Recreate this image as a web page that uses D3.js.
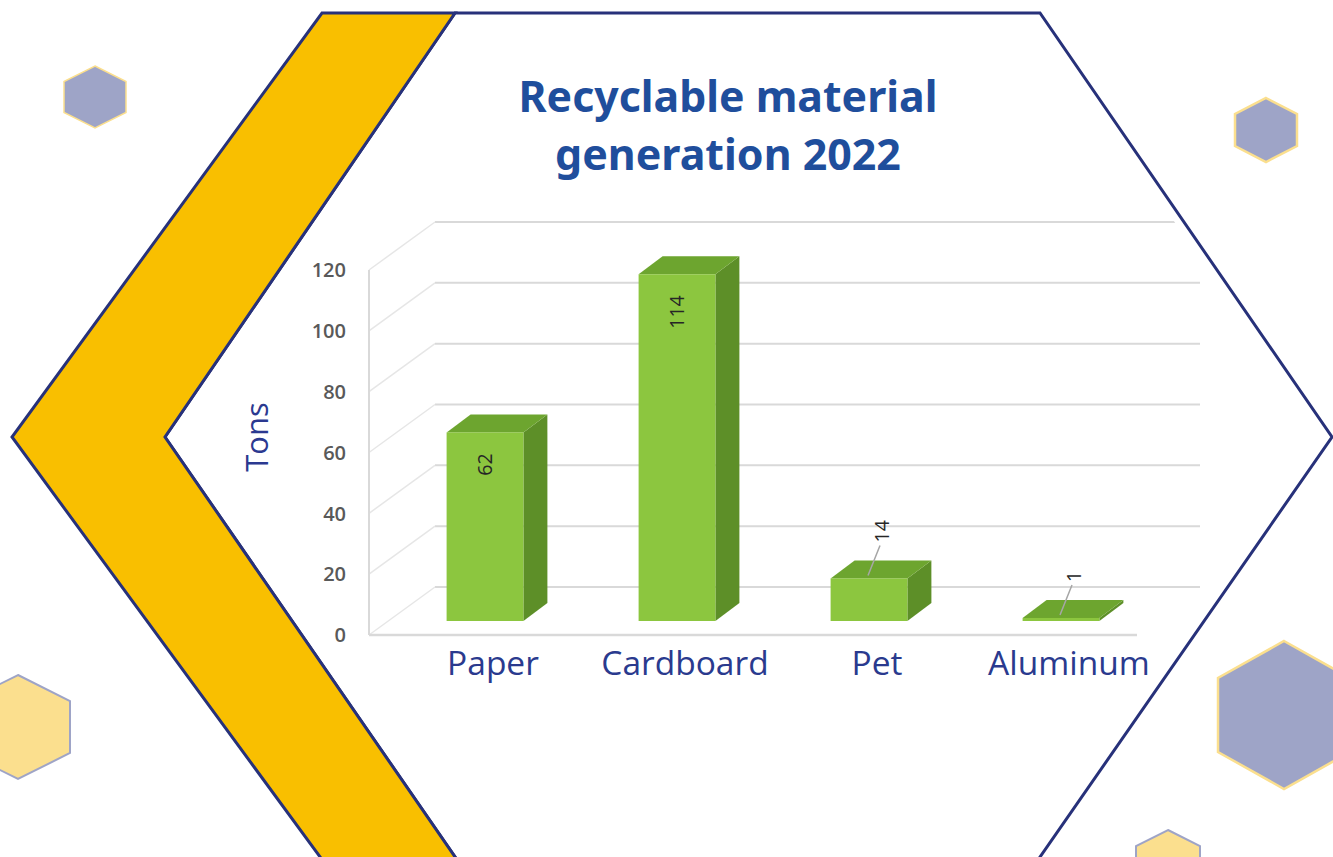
<!DOCTYPE html>
<html>
<head>
<meta charset="utf-8">
<script src="https://cdn.jsdelivr.net/npm/d3@7"></script>
<style>
  html, body { margin: 0; padding: 0; background: #ffffff; }
  svg { display: block; }
</style>
</head>
<body>
<svg id="chart" width="1333" height="857"></svg>
<script>
// Recycled material per category, in tons
const categories = ["Paper", "Cardboard", "Pet", "Aluminum"];
const tons = [62, 114, 14, 1];
const yTicks = [0, 20, 40, 60, 80, 100, 120];
const titleLines = ["Recyclable material", "generation 2022"];
const yAxisTitle = "Tons";

const svg = d3.select("#chart");

const navy = "#27317a";
const gold = "#f9bf00";
const lilac = "#9ea4c7";
const cream = "#fbdf8e";

// ---- decorative frame --------------------------------------------------
const hexFrame = [[455, 13], [1040, 13], [1332, 437], [1024, 880], [471, 880], [165, 437]];
const band = [[322, 13], [455, 13], [165, 437], [471, 880], [337, 880], [12, 437]];

svg.append("polygon")
  .attr("points", hexFrame.map(p => p.join(",")).join(" "))
  .attr("fill", "#ffffff").attr("stroke", navy).attr("stroke-width", 3)
  .attr("stroke-linejoin", "miter");

svg.append("polygon")
  .attr("points", band.map(p => p.join(",")).join(" "))
  .attr("fill", gold).attr("stroke", navy).attr("stroke-width", 3)
  .attr("stroke-linejoin", "miter");

// small pointy-top hexagons scattered around the frame
function hexPoints(cx, cy, hw, hh) {
  return [[cx, cy - hh], [cx + hw, cy - hh / 2], [cx + hw, cy + hh / 2],
          [cx, cy + hh], [cx - hw, cy + hh / 2], [cx - hw, cy - hh / 2]]
    .map(p => p.join(",")).join(" ");
}
const deco = [
  { cx: 95, cy: 97, hw: 31, hh: 31, fill: lilac, stroke: cream, sw: 1.5 },
  { cx: 1266, cy: 130, hw: 31, hh: 32, fill: lilac, stroke: cream, sw: 2.5 },
  { cx: 1284, cy: 715, hw: 66, hh: 74, fill: lilac, stroke: cream, sw: 2.5 },
  { cx: 1168, cy: 862, hw: 32, hh: 32, fill: cream, stroke: lilac, sw: 2 },
  { cx: 18, cy: 727, hw: 52, hh: 52, fill: cream, stroke: lilac, sw: 2 }
];
svg.selectAll("polygon.deco").data(deco).join("polygon")
  .attr("class", "deco")
  .attr("points", d => hexPoints(d.cx, d.cy, d.hw, d.hh))
  .attr("fill", d => d.fill).attr("stroke", d => d.stroke).attr("stroke-width", d => d.sw);

// ---- title -------------------------------------------------------------
const titleColor = "#1f4e9c";
const titleWidths = [419, 346];
titleLines.forEach((line, i) => {
  const t = svg.append("text")
    .attr("x", 728).attr("y", 112 + i * 58)
    .attr("text-anchor", "middle")
    .attr("font-family", "'Noto Sans', 'Open Sans', sans-serif")
    .attr("font-weight", 700)
    .attr("font-size", 42)
    .attr("fill", titleColor)
    .text(line);
  const w = t.node().getComputedTextLength();
  t.attr("font-size", 42 * titleWidths[i] / w);
});

// ---- 3D bar chart -----------------------------------------------------
const clipId = "plotClip";
svg.append("clipPath").attr("id", clipId)
  .append("polygon")
  .attr("points", [[460, 20], [1036, 20], [1322, 437], [1036, 850], [460, 850], [175, 437]]
    .map(p => p.join(",")).join(" "));

const plot = svg.append("g").attr("clip-path", `url(#${clipId})`);

const frontBase = 635;            // front edge of the floor
const wallDx = 66, wallDy = -48;  // depth of the floor / side wall
const barBase = 621;              // front-bottom of the bars
const barDx = 24, barDy = -18;    // bar depth
const axisX = 369;
const gridEnd = 1200;

const yScale = d3.scaleLinear().domain([0, 120]).range([0, 365]);
const x = d3.scaleBand().domain(categories).range([389, 1157])
  .paddingInner(0.6).paddingOuter(0.3);

const gridColor = "#d9d9d9";

// back-wall gridlines
plot.selectAll("line.grid").data(yTicks).join("line")
  .attr("class", "grid")
  .attr("x1", axisX + wallDx).attr("x2", gridEnd)
  .attr("y1", d => frontBase + wallDy - yScale(d))
  .attr("y2", d => frontBase + wallDy - yScale(d))
  .attr("stroke", gridColor).attr("stroke-width", 2);

// side-wall gridlines (diagonals)
plot.selectAll("line.diag").data(yTicks).join("line")
  .attr("class", "diag")
  .attr("x1", axisX).attr("y1", d => frontBase - yScale(d))
  .attr("x2", axisX + wallDx).attr("y2", d => frontBase + wallDy - yScale(d))
  .attr("stroke", "#e6e6e6").attr("stroke-width", 1.5);

// front vertical axis edge and floor edge
plot.append("line")
  .attr("x1", axisX).attr("x2", axisX)
  .attr("y1", frontBase).attr("y2", frontBase - yScale(120))
  .attr("stroke", gridColor).attr("stroke-width", 2);
plot.append("line")
  .attr("x1", axisX).attr("x2", 1137)
  .attr("y1", frontBase).attr("y2", frontBase)
  .attr("stroke", gridColor).attr("stroke-width", 2.5);

// y tick labels via a d3 axis positioned on the front edge
const yAxisScale = d3.scaleLinear().domain([0, 120]).range([frontBase, frontBase - yScale(120)]);
const yAxis = svg.append("g")
  .attr("transform", `translate(${axisX - 23},0)`)
  .call(d3.axisLeft(yAxisScale).tickValues(yTicks).tickSize(0).tickPadding(0));
yAxis.select(".domain").remove();
yAxis.selectAll("text")
  .attr("font-family", "'Open Sans', sans-serif")
  .attr("font-weight", 600)
  .attr("font-size", 20)
  .attr("fill", "#595959")
  .attr("dy", "0.34em");

// y axis title
svg.append("text")
  .attr("transform", "translate(268,437) rotate(-90)")
  .attr("text-anchor", "middle")
  .attr("font-family", "'Open Sans', sans-serif")
  .attr("font-size", 31)
  .attr("fill", "#2b3990")
  .text(yAxisTitle);

// bars
const frontCol = "#8cc63f", topCol = "#6da52f", sideCol = "#5d8f28";
const data = categories.map((c, i) => ({ cat: c, v: tons[i] }));
const bars = plot.selectAll("g.bar").data(data).join("g").attr("class", "bar");

bars.each(function (d) {
  const g = d3.select(this);
  const x0 = x(d.cat), x1 = x0 + x.bandwidth();
  const yt = barBase - yScale(d.v);
  // right side face
  g.append("polygon")
    .attr("points", [[x1, barBase], [x1 + barDx, barBase + barDy], [x1 + barDx, yt + barDy], [x1, yt]]
      .map(p => p.join(",")).join(" "))
    .attr("fill", sideCol);
  // top face
  g.append("polygon")
    .attr("points", [[x0, yt], [x1, yt], [x1 + barDx, yt + barDy], [x0 + barDx, yt + barDy]]
      .map(p => p.join(",")).join(" "))
    .attr("fill", topCol);
  // front face
  g.append("rect")
    .attr("x", x0).attr("y", yt)
    .attr("width", x.bandwidth()).attr("height", barBase - yt)
    .attr("fill", frontCol);
});

// value labels: inside tall bars, above short bars with a leader line
const labelFont = "'Open Sans', sans-serif";
data.forEach(d => {
  const cx = x(d.cat) + x.bandwidth() / 2;
  const yt = barBase - yScale(d.v);
  if (yScale(d.v) > 100) {
    svg.append("text")
      .attr("transform", `translate(${cx},${yt + 21}) rotate(-90)`)
      .attr("text-anchor", "end")
      .attr("dy", "0.35em")
      .attr("font-family", labelFont)
      .attr("font-size", 19.5)
      .attr("fill", "#262626")
      .text(d.v);
  } else {
    svg.append("line")
      .attr("x1", cx - 1).attr("y1", yt - 3)
      .attr("x2", cx + 11).attr("y2", yt - 33)
      .attr("stroke", "#a6a6a6").attr("stroke-width", 1.5);
    svg.append("text")
      .attr("transform", `translate(${cx + 13},${yt - 36}) rotate(-90)`)
      .attr("text-anchor", "start")
      .attr("dy", "0.35em")
      .attr("font-family", labelFont)
      .attr("font-size", 19.5)
      .attr("fill", "#262626")
      .text(d.v);
  }
});

// category labels
svg.selectAll("text.cat").data(categories).join("text")
  .attr("class", "cat")
  .attr("x", d => x(d) + x.bandwidth() / 2 + 8)
  .attr("y", 675)
  .attr("text-anchor", "middle")
  .attr("font-family", "'Open Sans', sans-serif")
  .attr("font-size", 33.5)
  .attr("fill", "#2a3a8e")
  .text(d => d);
</script>
</body>
</html>
